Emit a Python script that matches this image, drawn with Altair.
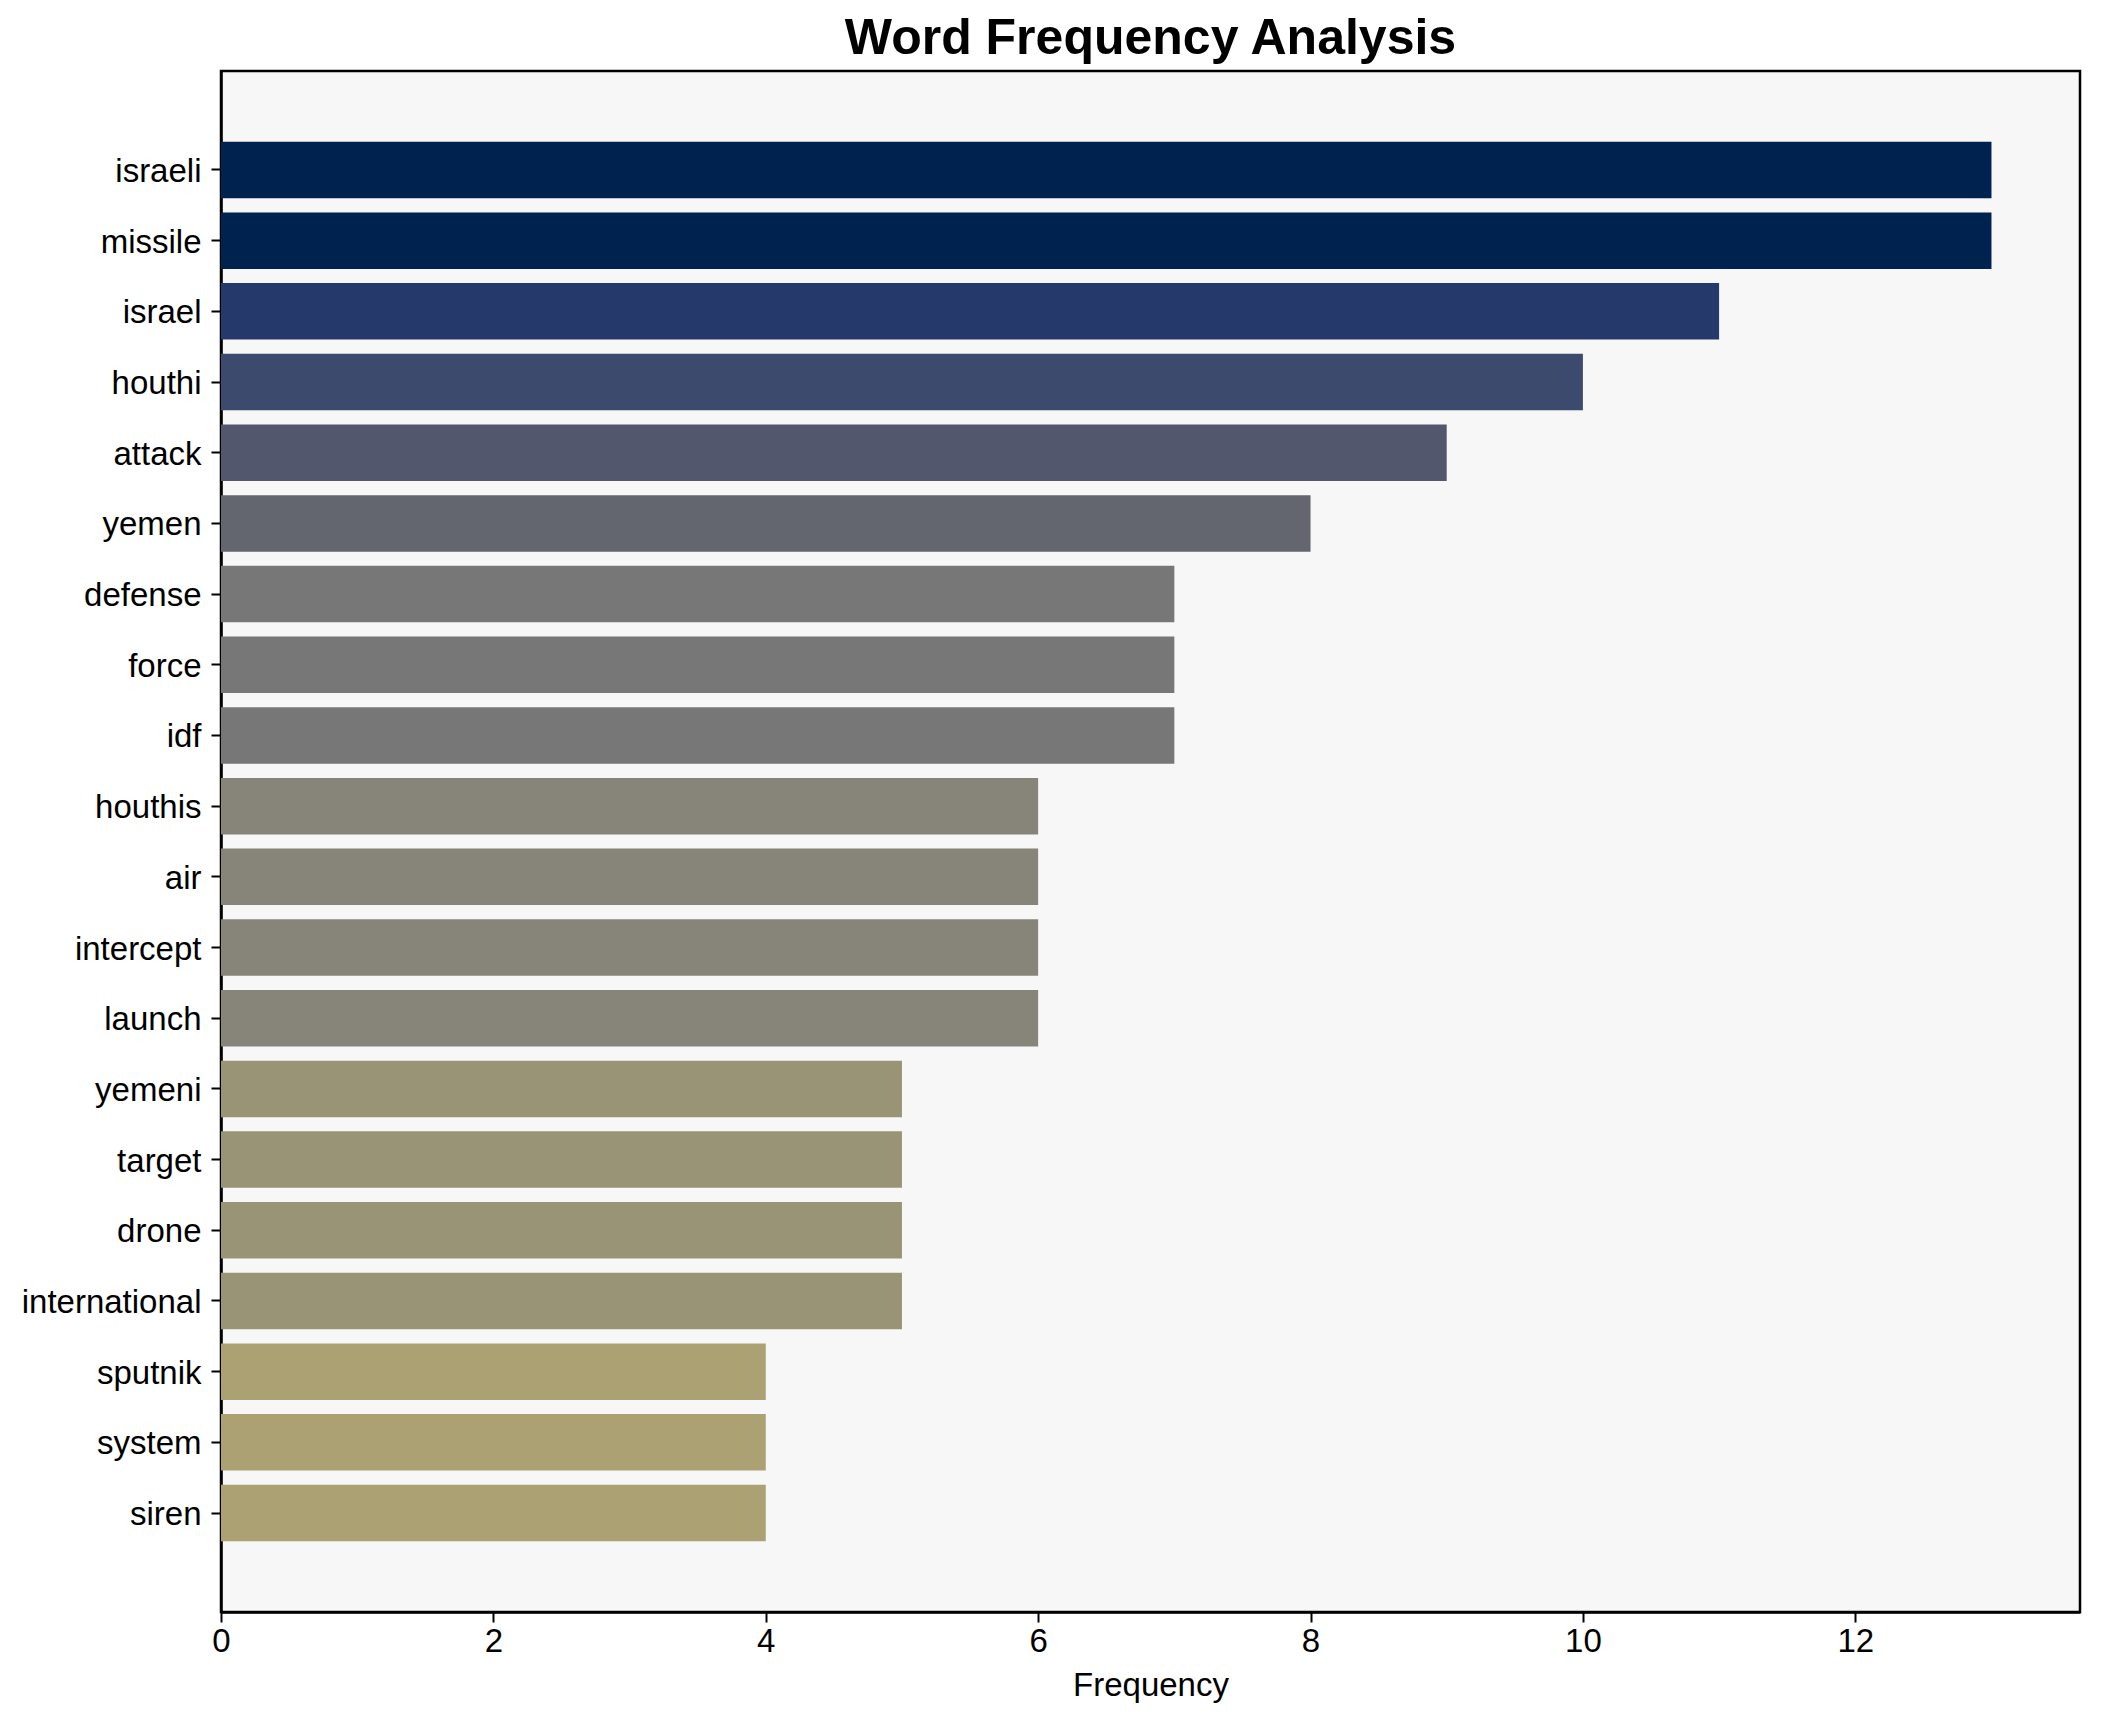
import altair as alt
import pandas as pd

words = ["israeli", "missile", "israel", "houthi", "attack", "yemen", "defense",
         "force", "idf", "houthis", "air", "intercept", "launch", "yemeni",
         "target", "drone", "international", "sputnik", "system", "siren"]
freqs = [13, 13, 11, 10, 9, 8, 7, 7, 7, 6, 6, 6, 6, 5, 5, 5, 5, 4, 4, 4]

freq_levels = [13, 11, 10, 9, 8, 7, 6, 5, 4]
freq_colors = ["#00224e", "#253a6b", "#3c4a6d", "#52576e", "#63656f",
               "#777777", "#878479", "#9a9476", "#aba172"]

x_ticks = [0, 2, 4, 6, 8, 10, 12]

df = pd.DataFrame({"word": words, "freq": freqs})

FONT = "Liberation Sans"

chart = alt.Chart(df).mark_bar().encode(
    y=alt.Y("word:N", sort=words,
            scale=alt.Scale(paddingInner=0.2, paddingOuter=1.0),
            axis=alt.Axis(title=None, labelFontSize=33, labelPadding=10,
                          tickSize=10, labelOffset=2)),
    x=alt.X("freq:Q", scale=alt.Scale(domain=[0, 13.65], nice=False, zero=True),
            axis=alt.Axis(title="Frequency", values=x_ticks, grid=False,
                          labelFontSize=33, labelPadding=3, tickSize=10,
                          labelFlush=False,
                          titleFontSize=33, titlePadding=11, titleFontWeight="normal")),
    color=alt.Color("freq:O", scale=alt.Scale(domain=freq_levels, range=freq_colors),
                    legend=None),
).properties(
    width=1859,
    height=1541,
    title=alt.TitleParams("Word Frequency Analysis", font=FONT, fontSize=50,
                          fontWeight="bold", color="black", anchor="middle",
                          frame="group", baseline="alphabetic", offset=16, dy=49),
    autosize=alt.AutoSizeParams(type="none"),
    padding={"left": 213, "top": 63, "right": 13, "bottom": 110},
).configure_view(
    fill="#f7f7f7", stroke="black", strokeWidth=2.5
).configure_axis(
    domainColor="black", domainWidth=2.5, tickColor="black", tickWidth=2,
    labelColor="black", titleColor="black", labelFont=FONT, titleFont=FONT,
)

chart.save("out.html", embed_options={"renderer": "svg", "actions": False})
